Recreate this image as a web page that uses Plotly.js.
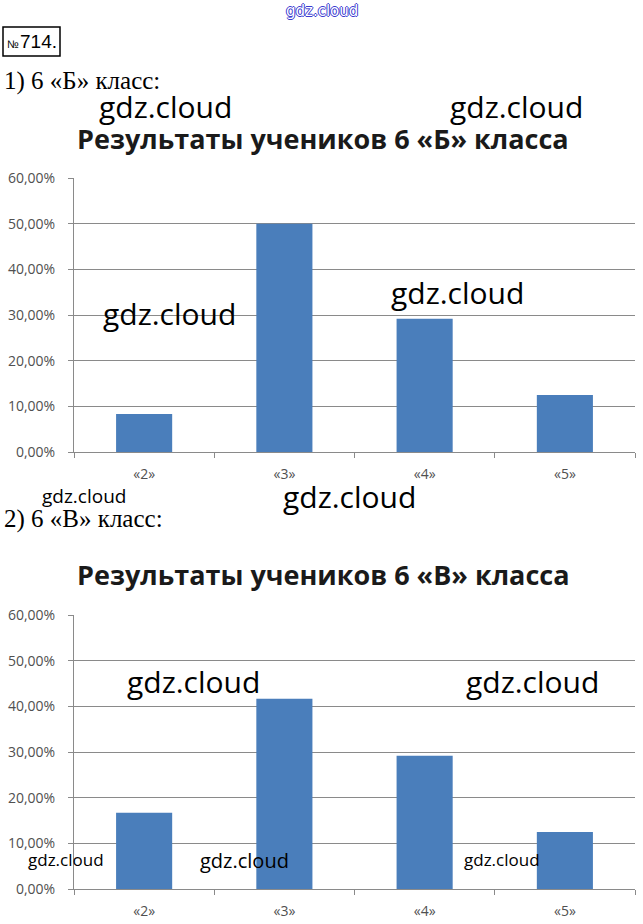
<!DOCTYPE html>
<html>
<head>
<meta charset="utf-8">
<script src="https://cdn.plot.ly/plotly-3.0.1.min.js"></script>
<style>
html,body{margin:0;padding:0;background:#fff;}
#chart{width:643px;height:924px;}
</style>
</head>
<body>
<div id="chart"></div>
<script>
// ---- data ----
const categories = ["«2»", "«3»", "«4»", "«5»"];
const classB = [0.0833, 0.50, 0.2917, 0.125];
const classV = [0.1667, 0.4167, 0.2917, 0.125];
const title1 = "Результаты учеников 6 «Б» класса";
const title2 = "Результаты учеников 6 «В» класса";
const heading1 = "1) 6 «Б» класс:";
const heading2 = "2) 6 «В» класс:";
const taskNo = "714.";
const mark = "gdz.cloud";

const W = 643, H = 924;
const px = x => x / W;
const py = y => 1 - y / H;

const barColor = "#4a7ebb";
const gridColor = "#8a8a8a";
const tickFont = {family: "Open Sans, sans-serif", size: 14, color: "#505050"};

function xAxis(anchor) {
  return {
    anchor: anchor, type: "category", domain: [px(74), px(635)],
    showline: true, linecolor: gridColor, linewidth: 1,
    ticks: "outside", tickson: "boundaries", ticklen: 5, tickcolor: gridColor,
    showgrid: false, zeroline: false, tickfont: tickFont, ticklabelstandoff: 9,
    fixedrange: true
  };
}
function yAxis(anchor, dom) {
  return {
    anchor: anchor, domain: dom, range: [0, 0.6], dtick: 0.1, tick0: 0,
    tickformat: ".2%", showgrid: true, gridcolor: gridColor, gridwidth: 1,
    showline: true, linecolor: gridColor, linewidth: 1,
    ticks: "outside", ticklen: 5, tickcolor: gridColor,
    zeroline: false, tickfont: tickFont, ticklabelstandoff: 10, fixedrange: true
  };
}

const traces = [
  {type: "bar", x: categories, y: classB, xaxis: "x", yaxis: "y",
   marker: {color: barColor}, width: 0.4, hoverinfo: "skip"},
  {type: "bar", x: categories, y: classV, xaxis: "x2", yaxis: "y2",
   marker: {color: barColor}, width: 0.4, hoverinfo: "skip"}
];

function wm(x, y, size) {
  return {xref: "paper", yref: "paper", x: px(x), y: py(y), text: mark,
    showarrow: false, xanchor: "center", yanchor: "middle",
    font: {family: "Open Sans, sans-serif", size: size, color: "#000"}};
}

const annotations = [
  {xref: "paper", yref: "paper", x: px(322), y: py(11), text: mark, showarrow: false,
   xanchor: "center", yanchor: "middle",
   font: {family: "DejaVu Sans, sans-serif", size: 15, color: "#ffffff",
          shadow: "1px 0 0 #3a3ad0, -1px 0 0 #3a3ad0, 0 1px 0 #3a3ad0, 0 -1px 0 #3a3ad0"}},
  {xref: "paper", yref: "paper", x: px(5), y: py(44), text: "№", showarrow: false,
   xanchor: "left", yanchor: "middle",
   font: {family: "Liberation Sans, sans-serif", size: 11, color: "#000"}},
  {xref: "paper", yref: "paper", x: px(18), y: py(41), text: taskNo, showarrow: false,
   xanchor: "left", yanchor: "middle",
   font: {family: "Liberation Sans, sans-serif", size: 19, color: "#000"}},
  {xref: "paper", yref: "paper", x: px(2), y: py(81), text: heading1, showarrow: false,
   xanchor: "left", yanchor: "middle",
   font: {family: "Liberation Serif, serif", size: 25, color: "#000"}},
  {xref: "paper", yref: "paper", x: px(2), y: py(519), text: heading2, showarrow: false,
   xanchor: "left", yanchor: "middle",
   font: {family: "Liberation Serif, serif", size: 25, color: "#000"}},
  {xref: "paper", yref: "paper", x: px(323), y: py(138), text: "<b>" + title1 + "</b>", showarrow: false,
   xanchor: "center", yanchor: "middle",
   font: {family: "Open Sans, sans-serif", size: 27, color: "#1a1a1a"}},
  {xref: "paper", yref: "paper", x: px(323), y: py(574), text: "<b>" + title2 + "</b>", showarrow: false,
   xanchor: "center", yanchor: "middle",
   font: {family: "Open Sans, sans-serif", size: 27, color: "#1a1a1a"}},
  wm(165, 106, 30), wm(516, 106, 30),
  wm(169, 313, 30), wm(457, 292, 30),
  wm(84, 496, 19), wm(349, 497, 30),
  wm(193, 681, 30), wm(532, 681, 30),
  wm(66, 859, 17), wm(244, 860, 20), wm(502, 859, 17)
];

const shapes = [
  {type: "rect", xref: "paper", yref: "paper", x0: px(3), x1: px(60), y0: py(56), y1: py(27),
   line: {color: "#000", width: 1.5}, fillcolor: "rgba(0,0,0,0)"}
];

const layout = {
  width: W, height: H, margin: {l: 0, r: 0, t: 0, b: 0},
  paper_bgcolor: "#fff", plot_bgcolor: "#fff",
  separators: ", ", showlegend: false, bargap: 0.6,
  xaxis: xAxis("y"), yaxis: yAxis("x", [py(452), py(178)]),
  xaxis2: xAxis("y2"), yaxis2: yAxis("x2", [py(889), py(615)]),
  annotations: annotations, shapes: shapes
};

Plotly.newPlot("chart", traces, layout, {displayModeBar: false, staticPlot: true});
</script>
</body>
</html>
